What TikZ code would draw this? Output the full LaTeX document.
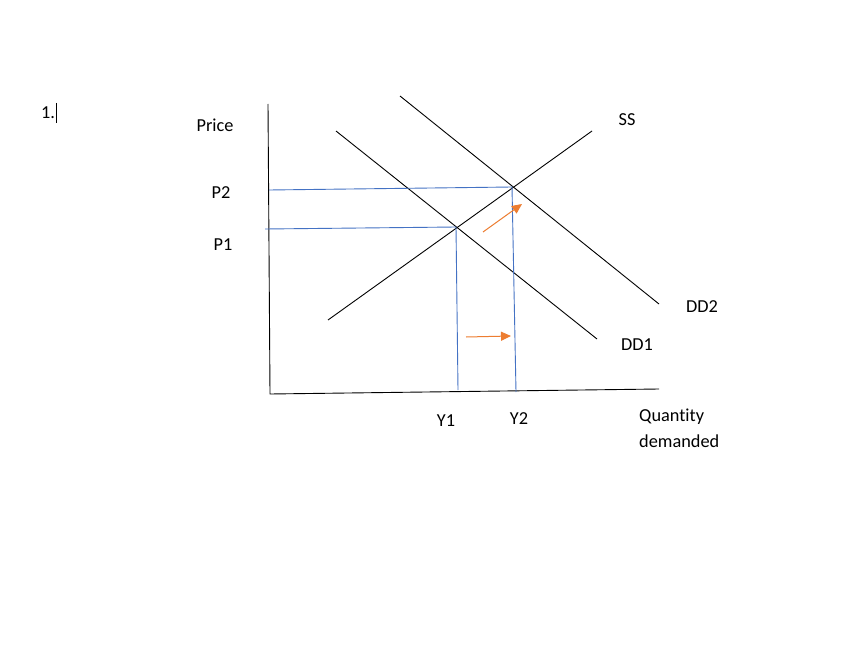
\documentclass[tikz,border=0pt]{standalone}
\usepackage{fontspec}
\setmainfont{Carlito}[Ligatures={NoCommon}]
\usetikzlibrary{arrows.meta}
\begin{document}
\begin{tikzpicture}[x=1pt,y=-1pt,
  lbl/.style={inner sep=0pt,font=\fontsize{18.3}{22}\selectfont},
  curve/.style={line width=0.9pt,black},
  guide/.style={line width=0.9pt,color={rgb,255:red,68;green,114;blue,196}},
  shift arrow/.style={line width=1pt,color={rgb,255:red,237;green,125;blue,49},-{Triangle[length=10pt,width=9pt]}}]
\useasboundingbox[fill=white] (0,0) rectangle (866,647);
% axes
\coordinate (ytop) at (268,104);
\coordinate (origin) at (270,394);
\coordinate (xend) at (659,389);
\draw[curve] (ytop) -- (origin) -- (xend);
% curves
\coordinate (ss1) at (328,320); \coordinate (ss2) at (592,131);
\coordinate (d11) at (336,131); \coordinate (d12) at (597,339);
\coordinate (d21) at (400,96);  \coordinate (d22) at (659,304);
\draw[curve] (ss1) -- (ss2);
\draw[curve] (d11) -- (d12);
\draw[curve] (d21) -- (d22);
% equilibria
\coordinate (e1) at (456,227);
\coordinate (e2) at (512,187);
\coordinate (p1) at (265,229);
\coordinate (p2) at (269,190);
\coordinate (y1) at (458,390);
\coordinate (y2) at (516,392);
\draw[guide] (p2) -- (e2) -- (y2);
\draw[guide] (p1) -- (e1) -- (y1);
% shift arrows
\coordinate (a1s) at (483,232); \coordinate (a1e) at (522,204);
\coordinate (a2s) at (466,337); \coordinate (a2e) at (511,336);
\draw[shift arrow] (a1s) -- (a1e);
\draw[shift arrow] (a2s) -- (a2e);
% labels
\node[lbl] (num) at (48,113) {1.};
\coordinate (cur1) at (56.5,103); \coordinate (cur2) at (56.5,123);
\draw[line width=0.8pt] (cur1) -- (cur2);
\node[lbl] (price) at (215,125) {Price};
\node[lbl] (lp2) at (221,193) {P2};
\node[lbl] (lp1) at (223,245) {P1};
\node[lbl] (lss) at (627,120) {SS};
\node[lbl] (ldd2) at (702,307) {DD2};
\node[lbl] (ldd1) at (637,345) {DD1};
\node[lbl] (ly1) at (446,421) {Y1};
\node[lbl] (ly2) at (519,419) {Y2};
\node[lbl,anchor=west] (lq) at (639,417) {Quantity};
\node[lbl,anchor=west] (ld) at (639,441) {demanded};
\end{tikzpicture}
\end{document}
